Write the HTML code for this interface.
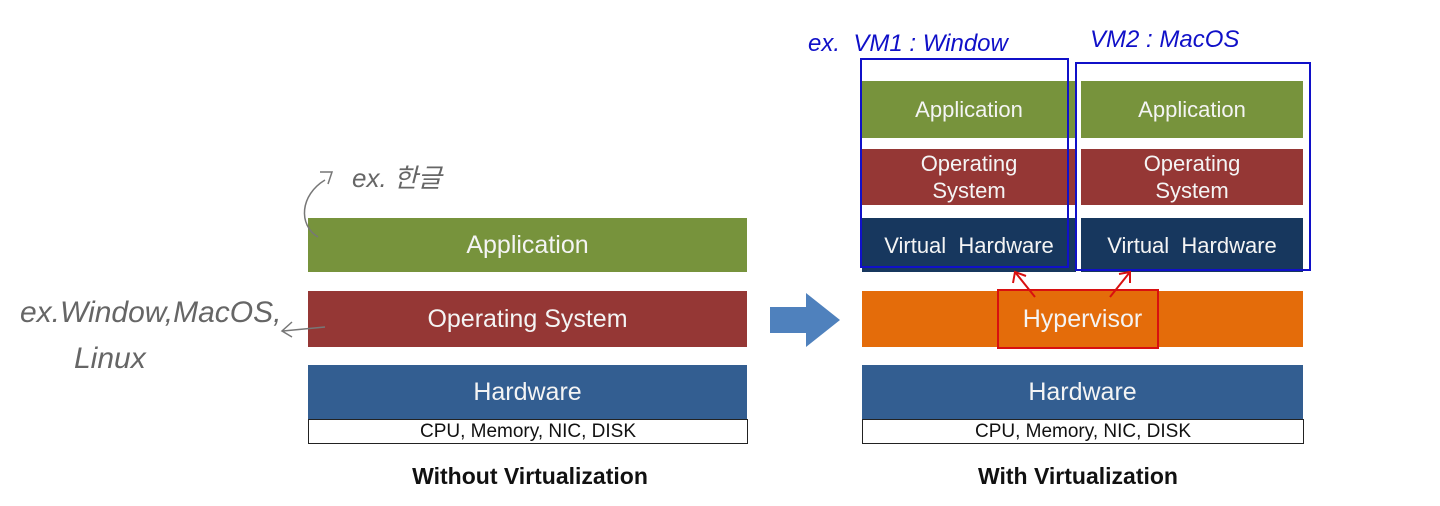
<!DOCTYPE html>
<html><head><style>
body{margin:0;width:1440px;height:506px;background:#fff;position:relative;overflow:hidden;font-family:"Liberation Sans","Noto Sans CJK KR",sans-serif}
.b{position:absolute;color:#f4f4f4;display:flex;align-items:center;justify-content:center;text-align:center;font-size:25px;line-height:27px}
.g{background:#77933C}.r{background:#953735}.h{background:#335E91}.v{background:#17375E;font-size:22px}.o{background:#E46C0A}
.c{position:absolute;border:1.5px solid #222;background:#fff;color:#111;font-size:19px;display:flex;align-items:center;justify-content:center;box-sizing:border-box}
.t{position:absolute;font-weight:bold;font-size:23px;color:#111;text-align:center}
.hw{position:absolute;font-family:"Liberation Sans","Noto Sans CJK KR",sans-serif;font-style:italic}
</style></head><body>
<div class="b g" style="left:308px;top:218px;width:439px;height:54px">Application</div>
<div class="b r" style="left:308px;top:291px;width:439px;height:56px">Operating System</div>
<div class="b h" style="left:308px;top:365px;width:439px;height:54px">Hardware</div>
<div class="c" style="left:308px;top:419px;width:440px;height:25px">CPU, Memory, NIC, DISK</div>
<div class="t" style="left:330px;top:463px;width:400px">Without Virtualization</div>

<svg style="position:absolute;left:0;top:0" width="1440" height="506">
<polygon points="770,307 806,307 806,293 840,320 806,347 806,333 770,333" fill="#4F81BD"/>
</svg>

<div class="b g" style="left:862px;top:81px;width:214px;height:57px;font-size:22px">Application</div>
<div class="b r" style="left:862px;top:149px;width:214px;height:56px;font-size:22px">Operating<br>System</div>
<div class="b v" style="left:862px;top:218px;width:214px;height:54px">Virtual&nbsp; Hardware</div>
<div class="b g" style="left:1081px;top:81px;width:222px;height:57px;font-size:22px">Application</div>
<div class="b r" style="left:1081px;top:149px;width:222px;height:56px;font-size:22px">Operating<br>System</div>
<div class="b v" style="left:1081px;top:218px;width:222px;height:54px">Virtual&nbsp; Hardware</div>
<div class="b o" style="left:862px;top:291px;width:441px;height:56px">Hypervisor</div>
<div class="b h" style="left:862px;top:365px;width:441px;height:54px">Hardware</div>
<div class="c" style="left:862px;top:419px;width:442px;height:25px">CPU, Memory, NIC, DISK</div>
<div class="t" style="left:878px;top:463px;width:400px">With Virtualization</div>

<svg style="position:absolute;left:0;top:0" width="1440" height="506" fill="none">
<rect x="861" y="59" width="207" height="208" stroke="#1010c8" stroke-width="2"/>
<rect x="1076" y="63" width="234" height="207" stroke="#1010c8" stroke-width="2"/>
<rect x="998" y="290" width="160" height="58" stroke="#d81010" stroke-width="2"/>
<path d="M1035,297 L1015,272 M1013,283 L1015,272 L1026,276 M1110,297 L1130,272 M1119,274 L1130,272 L1130,283" stroke="#d81010" stroke-width="2"/>
<path d="M318,237 C298,225 300,195 325,180 M320,172 L332,172 L328,184" stroke="#777" stroke-width="1.5"/>
<path d="M325,327 L283,331 M292,322 L282,331 L292,337" stroke="#777" stroke-width="1.5"/>
</svg>
<div class="hw" style="left:808px;top:30px;color:#1010c8;font-size:24px">ex.&nbsp; VM1 : Window</div>
<div class="hw" style="left:1090px;top:26px;color:#1010c8;font-size:24px">VM2 : MacOS</div>
<div class="hw" style="left:352px;top:158px;color:#666;font-size:26px">ex. 한글</div>
<div class="hw" style="left:20px;top:296px;color:#666;font-size:30px">ex.Window,MacOS,</div>
<div class="hw" style="left:74px;top:342px;color:#666;font-size:30px">Linux</div>
</body></html>
